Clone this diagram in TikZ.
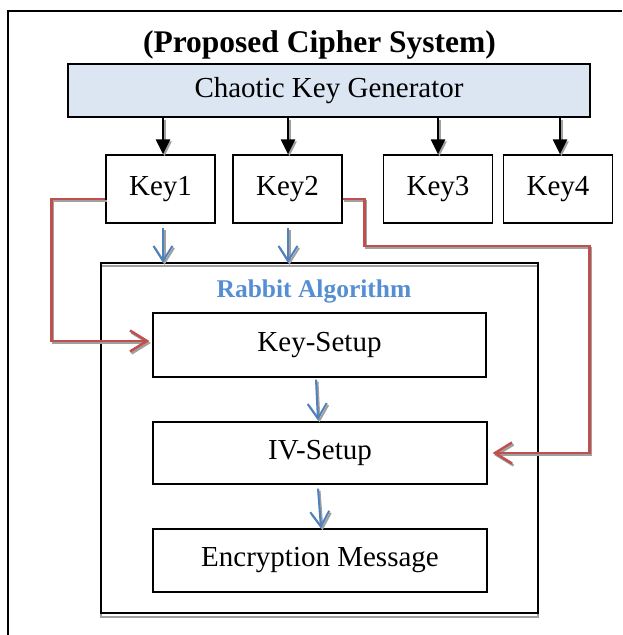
\documentclass[tikz,border=0pt]{standalone}
\usepackage{fontspec}
\setmainfont{Liberation Serif}
\usetikzlibrary{arrows.meta,calc}
\definecolor{genfill}{HTML}{DCE6F2}
\definecolor{rabbitblue}{HTML}{558ED5}
\definecolor{arrowblue}{HTML}{4F81BD}
\definecolor{arrowred}{HTML}{C0504D}
\definecolor{shadowgray}{HTML}{A0A0A0}
\begin{document}
\begin{tikzpicture}[x=1pt,y=-1pt,
  plain/.style={},
  shad/.style={draw=shadowgray, transform canvas={shift={(1.5pt,-2pt)}}},
  boxtext/.style={font=\fontsize{29}{34}\selectfont},
  keybox/.style={boxtext, draw=black, line width=1.3pt, inner sep=0pt, minimum width=109pt, minimum height=68pt},
  stagebox/.style={boxtext, draw=black, line width=1.3pt, inner sep=0pt, minimum width=333pt, minimum height=63pt},
  blackarrow/.style={draw=black, line width=2.3pt, -{Triangle[width=14pt,length=15pt]}},
  bluearrow/.style={draw=arrowblue, line width=2pt, -{Straight Barb[width=19pt,length=15pt]}},
  redarrow/.style={draw=arrowred, line width=2.5pt, -{Straight Barb[width=21pt,length=17pt]}}]
\fill[white] (0,0) rectangle (622,635);
\useasboundingbox (0,0) rectangle (622,635);
% outer frame
\draw[line width=2.2pt] (622,11) -- (8,11) -- (8,635);
% title
\node[font=\bfseries\fontsize{31.5}{36}\selectfont, anchor=base] (title) at (319.5,52) {(Proposed Cipher System)};
% generator
\node[boxtext, draw=black, line width=1.3pt, fill=genfill, inner sep=0pt, minimum width=522pt, minimum height=53pt] (gen) at (329,90.5) {Chaotic Key Generator};
% keys
\node[keybox] (k1) at (160.5,189) {Key1};
\node[keybox] (k2) at (287.5,189) {Key2};
\node[keybox] (k3) at (438,189) {Key3};
\node[keybox] (k4) at (558,189) {Key4};
% rabbit container
\node[minimum width=437pt, minimum height=350pt, inner sep=0pt] (rabbit) at (319.5,438) {};
\draw[shadowgray, line width=2pt] ($(rabbit.north west)+(0,3.5)$) rectangle ($(rabbit.south east)+(0,3.5)$);
\draw[black, line width=2pt] (rabbit.north west) rectangle (rabbit.south east);
\node[font=\bfseries\fontsize{25.5}{30}\selectfont, text=rabbitblue, anchor=base] (rlabel) at (314,297) {Rabbit Algorithm};
% stages
\node[stagebox, minimum height=64pt] (ks) at (319.5,345) {Key-Setup};
\node[stagebox, minimum width=334pt, minimum height=62pt] (iv) at (320,453) {IV-Setup};
\node[stagebox, minimum width=334pt] (enc) at (320,560.5) {Encryption Message};
% arrows with shadows
\foreach \s in {shad,plain} {
  \draw[blackarrow,\s] ($(k1.north |- gen.south)+(2.5,0)$) -- ($(k1.north)+(2.5,0)$);
  \draw[blackarrow,\s] ($(k2.north |- gen.south)+(0.5,0)$) -- ($(k2.north)+(0.5,0)$);
  \draw[blackarrow,\s] (k3.north |- gen.south) -- (k3.north);
  \draw[blackarrow,\s] ($(k4.north |- gen.south)+(2,0)$) -- ($(k4.north)+(2,0)$);
  \draw[bluearrow,\s] ($(k1.south)+(2.5,4)$) -- ($(k1.south |- rabbit.north)+(2.5,0)$);
  \draw[bluearrow,\s] ($(k2.south)+(0.5,4)$) -- ($(k2.south |- rabbit.north)+(0.5,0)$);
  \draw[bluearrow,\s] ($(ks.south)+(-3.5,2)$) -- ($(iv.north)+(-2,-1)$);
  \draw[bluearrow,\s] ($(iv.south)+(-2,4)$) -- ($(enc.north)+(1,0)$);
  \draw[redarrow,\s] ($(k1.west)+(0,10)$) -- ++(-54,0) |- ($(ks.west)+(-3,-4)$);
  \draw[redarrow,\s] ($(k2.east)+(0,10)$) -- ++(22,0) -- ++(0,47) -- ++(225,0) |- ($(iv.east)+(5,0)$);
}
\end{tikzpicture}
\end{document}
